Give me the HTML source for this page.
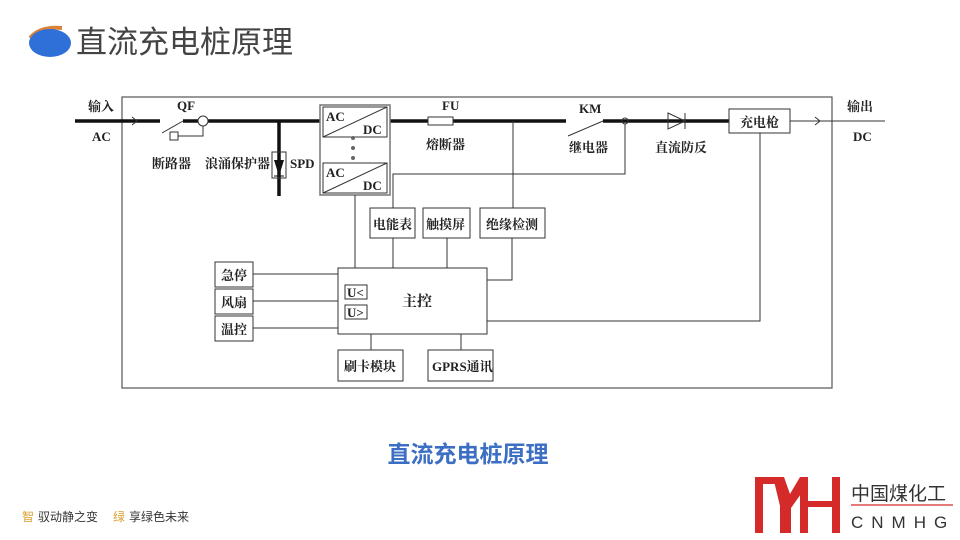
<!DOCTYPE html>
<html><head><meta charset="utf-8"><style>
html,body{margin:0;padding:0;background:#fff;width:960px;height:540px;overflow:hidden}
svg{display:block}
.s{font-family:"Liberation Serif","Noto Serif CJK SC",serif;font-weight:bold;fill:#222}
.k{font-family:"Liberation Sans","Noto Sans CJK SC",sans-serif}
</style></head><body>
<svg width="960" height="540" viewBox="0 0 960 540" xmlns="http://www.w3.org/2000/svg">
<!-- header -->
<path d="M30 38 Q40 26 62 28" stroke="#d9823a" stroke-width="4" fill="none"/>
<ellipse cx="50" cy="43" rx="21" ry="14" fill="#2f6fd8"/>
<text x="76" y="53" class="k" font-size="31" fill="#444">直流充电桩原理</text>

<g stroke="#555" fill="none" stroke-width="1.2">
<rect x="122" y="97" width="710" height="291"/>
</g>
<!-- main line -->
<g stroke="#111" stroke-width="3.5" fill="none">
<line x1="75" y1="121" x2="160" y2="121"/>
<line x1="183" y1="121" x2="198" y2="121"/>
<line x1="208" y1="121" x2="320" y2="121"/>
<line x1="390" y1="121" x2="428" y2="121"/>
<line x1="453" y1="121" x2="566" y2="121"/>
<line x1="603" y1="121" x2="729" y2="121"/>
<line x1="279" y1="121" x2="279" y2="196"/>
</g>
<g stroke="#333" stroke-width="1" fill="none">
<path d="M132 117 L137 121 L132 125"/>
<line x1="162" y1="133" x2="183" y2="121"/>
<circle cx="203" cy="121" r="5"/>
<rect x="170" y="132" width="8" height="8"/>
<path d="M178 136 H203 V126"/>
<rect x="272" y="152" width="14" height="26"/>
<rect x="320" y="105" width="70" height="90" stroke="#777" stroke-width="1.5"/>
<rect x="323" y="107" width="64" height="30"/>
<line x1="323" y1="137" x2="387" y2="107"/>
<rect x="323" y="163" width="64" height="30"/>
<line x1="323" y1="193" x2="387" y2="163"/>
<rect x="428" y="117" width="25" height="8"/>
<line x1="568" y1="136" x2="603" y2="121"/>
<circle cx="625" cy="121" r="3"/>
<path d="M668 113 L685 121 L668 129 Z"/>
<line x1="685" y1="113" x2="685" y2="129"/>
<rect x="729" y="109" width="61" height="24"/>
<line x1="790" y1="121" x2="885" y2="121"/>
<path d="M815 117 L820 121 L815 125"/>
<!-- control wires -->
<path d="M625 124 V174 H393 V208"/>
<line x1="355" y1="195" x2="355" y2="268"/>
<line x1="513" y1="121" x2="513" y2="208"/>
<line x1="393" y1="238" x2="393" y2="268"/>
<line x1="447" y1="238" x2="447" y2="268"/>
<path d="M512 238 V280 H487"/>
<path d="M760 133 V321 H487"/>
<rect x="370" y="208" width="45" height="30"/>
<rect x="423" y="208" width="47" height="30"/>
<rect x="480" y="208" width="65" height="30"/>
<rect x="338" y="268" width="149" height="66"/>
<rect x="215" y="262" width="38" height="25"/>
<rect x="215" y="289" width="38" height="25"/>
<rect x="215" y="316" width="38" height="25"/>
<line x1="253" y1="274" x2="338" y2="274"/>
<line x1="253" y1="301" x2="338" y2="301"/>
<line x1="253" y1="328" x2="338" y2="328"/>
<rect x="345" y="285" width="22" height="14"/>
<rect x="345" y="305" width="22" height="14"/>
<line x1="371" y1="334" x2="371" y2="350"/>
<line x1="461" y1="334" x2="461" y2="350"/>
<rect x="338" y="350" width="65" height="31"/>
<rect x="428" y="350" width="65" height="31"/>
</g>
<path d="M274 160 L284 160 L279 176 Z" fill="#111"/>
<line x1="274" y1="176" x2="284" y2="176" stroke="#111"/>
<g fill="#666"><circle cx="353" cy="138" r="2"/><circle cx="353" cy="148" r="2"/><circle cx="353" cy="158" r="2"/></g>
<g class="s" font-size="13">
<text x="88" y="111">输入</text>
<text x="92" y="141">AC</text>
<text x="177" y="110">QF</text>
<text x="152" y="168">断路器</text>
<text x="205" y="168">浪涌保护器</text>
<text x="290" y="168">SPD</text>
<text x="326" y="121">AC</text>
<text x="363" y="134">DC</text>
<text x="326" y="177">AC</text>
<text x="363" y="190">DC</text>
<text x="442" y="110">FU</text>
<text x="426" y="149">熔断器</text>
<text x="579" y="113">KM</text>
<text x="569" y="152">继电器</text>
<text x="655" y="152">直流防反</text>
<text x="740" y="127">充电枪</text>
<text x="847" y="111">输出</text>
<text x="853" y="141">DC</text>
<text x="373" y="229">电能表</text>
<text x="426" y="229">触摸屏</text>
<text x="486" y="229">绝缘检测</text>
<text x="221" y="280">急停</text>
<text x="221" y="307">风扇</text>
<text x="221" y="334">温控</text>
<text x="347" y="297">U&lt;</text>
<text x="347" y="317">U&gt;</text>
<text x="402" y="306" font-size="15">主控</text>
<text x="344" y="371">刷卡模块</text>
<text x="432" y="371">GPRS通讯</text>
</g>
<text x="468" y="462" class="k" font-size="23" font-weight="bold" fill="#3c6fc4" text-anchor="middle">直流充电桩原理</text>
<text x="22" y="521" class="k" font-size="12" fill="#d9a030">智</text>
<text x="38" y="521" class="k" font-size="12" fill="#333">驭动静之变</text>
<text x="113" y="521" class="k" font-size="12" fill="#d9a030">绿</text>
<text x="129" y="521" class="k" font-size="12" fill="#333">享绿色未来</text>
<!-- logo -->
<g fill="#d42a2a">
<rect x="755" y="477" width="8" height="56"/>
<rect x="755" y="477" width="28" height="7"/>
<path d="M773 477 L784 477 L790 494 L800 477 L808 477 L808 484 L791 508 L791 533 L780 533 L780 506 Z"/>
<rect x="800" y="477" width="8" height="56"/>
<rect x="832" y="477" width="8" height="56"/>
<rect x="808" y="501" width="24" height="6"/>
</g>
<text x="851" y="500" class="k" font-size="19" fill="#333">中国煤化工</text>
<line x1="851" y1="505" x2="953" y2="505" stroke="#d42a2a" stroke-width="1.2"/>
<text x="851" y="528" class="k" font-size="17" fill="#333" letter-spacing="8">CNMHG</text>
</svg>
</body></html>
